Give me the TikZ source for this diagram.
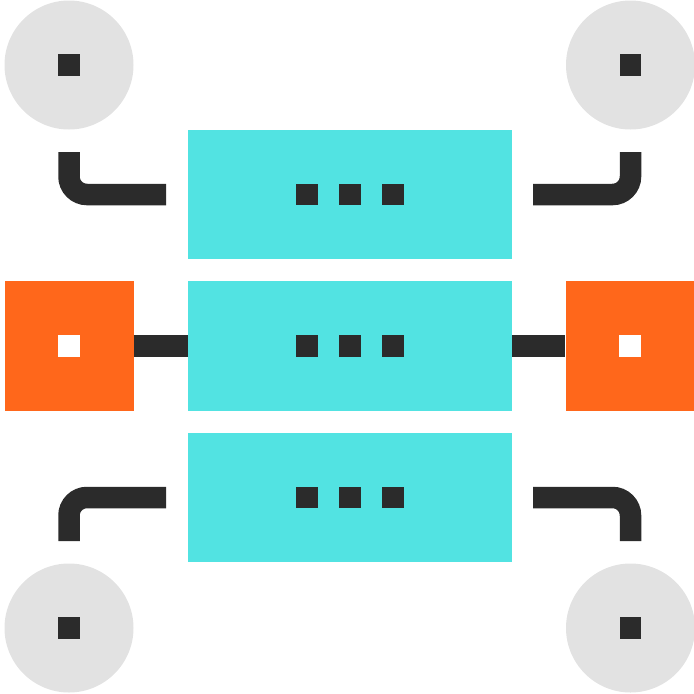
\documentclass[tikz,border=0pt]{standalone}
\definecolor{cgray}{HTML}{E2E2E2}
\definecolor{cdark}{HTML}{2B2B2B}
\definecolor{ccyan}{HTML}{52E3E2}
\definecolor{corange}{HTML}{FF671B}
\begin{document}
\begin{tikzpicture}[x=1pt,y=-1pt,
  circ/.style={circle,fill=cgray,inner sep=0,minimum size=129pt},
  pip/.style={rectangle,fill=cdark,inner sep=0,minimum size=21.5pt},
  wpip/.style={rectangle,fill=white,inner sep=0,minimum size=21.5pt},
  server/.style={rectangle,fill=ccyan,inner sep=0,minimum width=324pt,minimum height=129.5pt},
  osq/.style={rectangle,fill=corange,inner sep=0,minimum width=129pt,minimum height=130pt},
  wire/.style={draw=cdark,line width=21.5pt,rounded corners=18pt}]
\useasboundingbox (0,0) rectangle (694,694);
% corner circles
\node[circ] (c1) at (69,65) {};
\node[circ] (c2) at (630.5,65) {};
\node[circ] (c3) at (69,628) {};
\node[circ] (c4) at (630.5,628) {};
\node[pip] (p1) at (c1) {};
\node[pip] (p2) at (c2) {};
\node[pip] (p3) at (c3) {};
\node[pip] (p4) at (c4) {};
% servers
\node[server] (s1) at (350,194.5) {};
\node[server] (s2) at (350,346) {};
\node[server] (s3) at (350,497.5) {};
\foreach \s in {s1,s2,s3}{
  \node[pip] (\s d1) at ([xshift=-43pt]\s.center) {};
  \node[pip] (\s d2) at (\s.center) {};
  \node[pip] (\s d3) at ([xshift=43pt]\s.center) {};
}
% orange squares
\node[osq] (o1) at (69,346) {};
\node[osq] (o2) at (630,346) {};
\node[wpip] (w1) at (o1) {};
\node[wpip] (w2) at (o2) {};
% straight connectors
\draw[wire] (o1.east) -- (s2.west);
\draw[wire] (s2.east) -- (o2.west);
% L connectors
\coordinate (a1) at (69,152);   \coordinate (b1) at (166,194.5);
\coordinate (a2) at (630.5,152);\coordinate (b2) at (533,194.5);
\coordinate (a3) at (69,541);   \coordinate (b3) at (166,497.5);
\coordinate (a4) at (630.5,541);\coordinate (b4) at (533,497.5);
\draw[wire] (a1) |- (b1);
\draw[wire] (a2) |- (b2);
\draw[wire] (a3) |- (b3);
\draw[wire] (a4) |- (b4);
\end{tikzpicture}
\end{document}
